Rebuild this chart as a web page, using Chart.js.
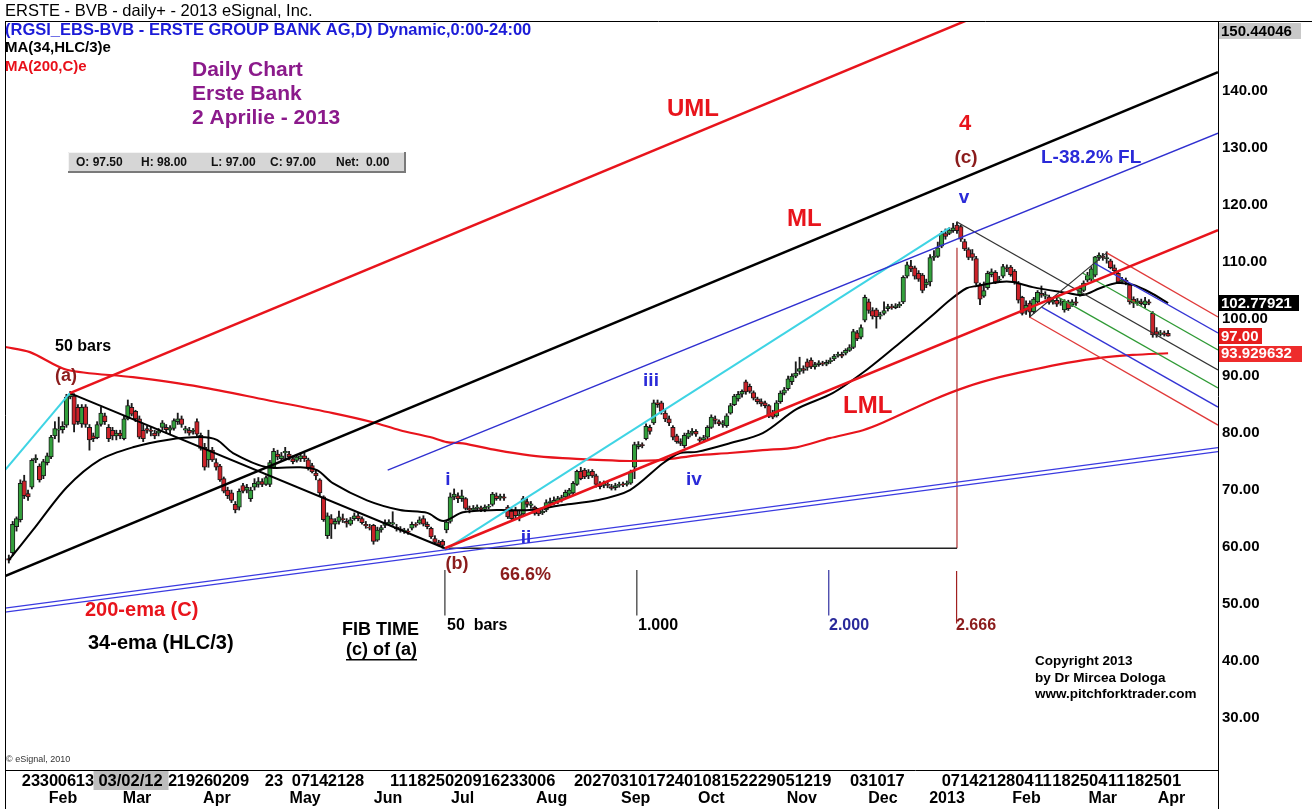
<!DOCTYPE html>
<html><head><meta charset="utf-8">
<script src="https://cdn.jsdelivr.net/npm/chart.js@4.4.1/dist/chart.umd.min.js"></script>
<style>html,body{margin:0;padding:0;background:#fff;overflow:hidden}canvas{display:block}</style>
</head><body>
<canvas id="c" width="1312" height="809"></canvas>
<script>
// ---------- DATA ----------
const opens = [
58.0,59.0,63.6,64.8,71.6,69.4,70.5,75.3,74.2,72.5,
74.8,75.8,79.5,80.5,80.6,81.4,86.4,86.5,84.5,81.6,
84.6,81.0,79.5,79.2,81.5,83.0,81.0,80.5,79.5,80.0,
79.0,82.5,84.5,83.8,82.5,80.5,80.8,80.5,80.0,80.0,
81.0,81.0,80.5,80.8,82.0,82.5,80.5,80.5,80.3,82.0,
79.6,77.5,75.3,77.0,74.8,74.2,72.0,70.0,69.5,67.5,
67.0,70.8,70.0,68.5,70.5,71.0,71.5,71.0,71.0,74.0,
76.3,75.5,76.5,76.3,75.5,75.2,75.5,76.0,75.3,74.3,
73.0,71.8,68.8,62.0,65.0,64.0,64.5,65.0,64.5,64.0,
65.0,65.5,65.0,64.0,63.5,63.8,61.2,63.0,63.8,64.0,
64.0,63.5,63.2,62.8,62.8,63.3,64.0,64.2,65.0,64.0,
63.3,61.5,60.8,61.0,63.0,64.5,68.8,69.0,68.5,68.5,
66.8,66.5,66.8,66.7,66.6,67.0,67.5,69.0,68.6,68.8,
67.0,66.3,66.5,65.5,65.8,68.0,67.3,67.0,66.5,66.0,
66.5,67.8,67.8,68.0,68.3,68.8,69.3,69.5,71.0,73.3,
73.5,72.5,73.3,72.5,71.0,70.8,71.0,70.6,70.4,70.8,
71.0,71.0,71.2,74.0,77.6,78.0,79.0,81.0,81.8,85.3,
85.3,83.5,82.5,81.0,79.5,78.5,77.8,79.3,80.0,80.3,
79.0,78.8,79.3,81.0,82.5,82.0,81.5,81.3,83.5,85.0,
86.0,86.8,89.0,88.2,87.1,86.0,85.5,85.3,84.8,83.5,
83.0,85.5,87.0,87.8,89.0,90.0,90.8,91.3,92.5,92.8,
91.6,92.0,92.3,92.1,92.5,93.0,93.6,93.8,94.0,94.5,
95.0,97.6,96.8,99.8,103.0,101.5,101.6,100.5,101.0,101.8,
102.2,102.0,102.3,103.0,107.5,109.3,109.0,108.0,107.7,106.0,
106.5,110.8,111.0,112.8,115.0,115.0,115.5,116.5,116.2,113.6,
112.2,111.5,110.6,106.0,104.0,105.5,107.8,108.2,106.8,107.5,
109.0,109.1,108.4,106.3,103.8,101.5,102.8,101.3,103.0,104.5,
104.0,103.9,103.0,103.3,102.8,101.6,103.0,102.5,103.0,104.2,
105.0,106.8,107.0,107.7,110.8,111.0,110.6,110.2,109.0,108.0,
106.6,106.8,106.0,103.5,102.8,103.0,102.5,103.0,101.0,97.8,
97.3,97.6,97.5];
const highs = [
58.6,64.5,65.3,71.8,72.6,70.0,75.5,76.2,74.6,75.4,
76.5,79.6,82.0,82.8,82.0,86.8,87.3,86.9,85.0,85.0,
85.0,81.5,80.0,82.0,84.5,83.5,81.5,81.0,80.5,80.5,
83.0,85.8,85.2,84.0,83.0,81.5,81.2,81.0,80.5,80.8,
82.2,81.5,81.3,82.5,83.5,83.0,81.2,81.0,80.8,82.5,
80.0,78.2,80.5,77.5,75.5,74.5,72.3,70.5,70.0,68.0,
70.2,71.2,71.0,70.5,72.0,72.2,72.0,72.5,75.2,77.3,
77.0,76.6,77.5,76.8,76.0,76.2,76.5,76.5,75.6,74.7,
73.5,72.0,69.0,66.0,65.7,65.0,66.3,65.8,65.0,65.2,
66.0,66.0,65.3,64.5,64.0,64.0,63.5,63.8,64.8,64.8,
66.2,64.0,63.6,63.3,63.2,64.4,64.3,65.3,65.5,64.4,
63.5,62.0,61.2,61.3,64.6,69.5,70.2,69.5,70.0,68.7,
67.2,67.3,67.4,67.2,67.4,67.5,69.6,69.5,69.3,69.3,
67.3,66.7,67.0,66.5,68.9,68.5,68.0,67.2,66.8,66.8,
68.3,68.6,68.8,68.9,69.1,70.0,70.3,71.5,73.5,74.0,
73.8,73.6,73.6,72.8,71.5,71.6,71.5,71.0,71.2,71.4,
71.4,71.6,73.5,78.4,78.5,78.3,81.6,81.4,85.8,85.8,
85.6,84.0,83.0,81.3,79.8,79.0,80.0,80.5,80.8,80.6,
79.3,79.6,81.3,83.2,83.0,82.3,82.2,83.4,85.2,86.8,
87.3,87.6,89.3,88.6,87.4,86.3,86.0,85.6,85.0,84.0,
85.7,87.4,88.0,90.0,90.4,92.5,93.3,91.8,93.0,93.2,
92.4,92.7,92.6,92.8,93.2,93.8,94.2,94.2,94.8,95.5,
98.2,98.0,99.0,104.2,103.5,102.0,101.9,101.2,103.0,102.6,
102.6,102.7,103.0,107.6,110.0,110.3,109.3,108.5,108.0,107.0,
111.3,112.0,113.5,115.4,115.8,116.0,116.8,117.0,116.5,114.0,
112.5,112.2,111.0,106.3,106.5,108.4,108.8,108.5,107.5,109.6,
109.5,109.4,108.7,106.6,104.0,103.2,103.2,103.8,105.0,105.8,
104.8,104.2,103.7,103.8,103.5,103.4,103.3,103.4,103.8,105.8,
106.7,108.2,109.2,111.0,111.6,111.5,111.8,110.5,109.5,108.3,
107.3,107.2,106.3,103.9,103.6,103.5,103.8,103.4,101.3,98.5,
98.0,97.9,98.0];
const lows = [
57.2,58.5,62.8,64.4,68.5,68.2,70.2,74.8,71.4,72.0,
74.4,75.5,79.0,78.4,80.0,81.0,86.0,80.2,81.5,81.0,
81.0,77.0,78.5,79.0,81.2,81.5,78.5,78.8,78.8,79.0,
78.8,82.3,83.0,82.0,79.0,78.5,80.0,79.5,79.0,79.5,
80.5,80.0,79.8,80.5,81.5,81.0,80.0,79.6,79.8,79.5,
77.0,73.5,74.0,75.0,73.5,71.5,69.5,68.5,67.8,66.0,
66.5,69.5,69.5,68.0,70.0,70.5,70.6,70.8,70.6,73.8,
75.3,75.0,75.5,75.3,74.6,74.9,75.0,75.0,73.5,73.0,
71.8,69.0,64.5,61.5,61.5,63.2,64.0,64.3,63.5,63.8,
64.7,64.6,64.0,63.3,63.0,60.5,61.0,62.6,63.4,63.8,
63.8,62.8,62.6,62.4,62.2,63.0,63.5,64.0,63.7,63.2,
61.5,60.5,60.2,59.8,62.5,64.2,68.3,67.8,68.0,66.5,
66.0,66.2,66.4,66.2,66.2,66.7,67.2,68.2,68.2,68.2,
65.0,64.7,65.0,64.6,65.5,67.0,66.8,65.6,65.5,65.7,
66.2,67.4,67.4,67.6,67.9,68.5,69.0,69.2,70.8,71.8,
72.0,72.0,72.2,70.5,70.2,70.4,70.4,70.0,70.0,70.5,
70.6,70.7,71.0,72.0,77.2,77.4,78.8,79.8,81.5,84.5,
83.3,82.0,81.3,78.8,78.2,77.8,77.4,79.0,79.6,79.4,
78.3,78.4,79.0,80.8,81.6,81.3,81.0,81.0,83.3,84.8,
85.6,86.3,86.8,87.0,85.8,85.1,84.7,84.4,82.7,82.5,
82.8,85.2,86.7,87.5,88.5,89.7,90.3,90.5,91.0,91.3,
91.2,91.7,91.8,91.8,92.2,92.7,93.3,93.2,93.7,94.3,
94.8,96.2,96.5,99.5,101.0,100.0,98.4,100.0,100.7,101.4,
101.7,101.8,102.0,102.7,107.2,108.3,107.0,106.6,104.6,105.5,
105.8,110.3,110.8,112.5,114.0,114.8,115.2,115.0,113.6,112.0,
110.4,110.3,106.0,102.5,103.8,105.2,107.4,106.2,106.4,107.2,
108.3,107.5,106.1,102.8,100.7,100.8,100.3,101.0,102.8,103.8,
103.5,102.6,102.6,102.2,102.4,101.2,101.5,102.2,102.4,104.0,
104.8,106.5,106.7,107.4,110.3,110.3,109.8,108.8,108.2,106.2,
106.2,106.0,102.6,102.0,102.4,102.4,102.0,102.5,96.8,96.8,
97.0,97.0,97.0];
const closes = [
57.7,64.0,65.0,71.2,69.0,68.8,75.2,75.6,71.8,75.0,
76.0,79.3,80.8,80.7,81.2,86.3,86.8,81.5,82.0,84.5,
81.5,78.8,79.0,81.5,83.5,82.0,79.0,79.5,80.0,79.5,
82.5,84.8,83.3,82.5,79.3,79.0,80.5,80.3,79.5,80.4,
81.8,80.6,80.9,82.2,82.5,81.5,80.8,80.0,80.5,79.8,
77.3,74.0,77.0,75.3,74.0,71.8,69.8,69.0,68.2,66.5,
69.8,69.8,70.5,70.0,71.2,71.5,71.0,72.2,74.8,76.8,
75.8,76.0,76.8,75.8,75.0,75.8,76.0,75.5,73.8,73.2,
72.5,69.5,64.8,65.5,64.0,64.5,65.3,64.8,64.2,64.8,
65.5,65.0,64.3,63.7,63.3,61.0,63.0,63.4,64.3,64.4,
64.3,63.2,63.0,62.9,62.6,64.0,63.8,64.8,64.0,63.6,
61.8,60.8,60.4,60.3,64.4,68.8,69.3,68.5,69.0,66.8,
66.5,66.8,67.0,66.6,67.0,67.1,69.3,68.5,68.9,68.6,
65.3,65.0,65.5,65.8,68.5,67.5,67.6,65.9,65.8,66.3,
67.8,68.0,68.2,68.5,68.7,69.6,70.0,71.2,73.3,72.0,
72.3,73.2,72.5,71.0,70.6,71.2,70.8,70.3,70.8,71.0,
70.9,71.2,73.2,78.0,78.0,77.8,81.2,80.3,85.3,85.0,
83.8,82.5,81.8,79.3,78.5,78.2,79.6,80.0,80.3,79.8,
78.7,79.2,81.0,82.8,82.2,81.6,81.8,83.0,84.8,86.5,
86.8,87.3,87.2,87.3,86.1,85.5,85.1,84.8,83.0,82.8,
85.3,87.0,87.6,89.5,90.0,90.5,91.3,91.0,91.5,91.6,
92.0,92.3,92.1,92.4,92.8,93.5,93.8,93.5,94.5,95.0,
97.8,96.5,98.5,103.8,101.5,100.5,100.4,100.8,101.5,102.2,
102.0,102.3,102.6,107.3,109.5,108.8,107.5,107.0,105.0,106.5,
110.8,111.0,112.5,115.0,114.5,115.6,116.0,115.5,114.0,112.3,
110.8,110.8,106.3,103.5,105.0,108.0,108.3,106.5,107.0,109.2,
108.8,107.8,106.5,103.3,101.0,102.4,101.2,103.5,104.7,104.2,
104.3,102.9,103.3,102.6,103.0,103.1,101.8,103.0,102.8,105.4,
106.3,107.6,108.8,110.9,111.2,110.8,110.8,109.0,108.5,106.5,
106.8,106.5,103.0,102.8,103.2,102.7,103.2,102.8,97.2,97.3,
97.6,97.3,97.0];

// moving averages (bar index, value)
const ema34Idx = [0,6.3,15.1,23.7,32.3,41.2,49.8,54.2,58.4,67.2,75.8,80.3,84.4,93.3,101.9,109,112.3,114.1,118.3,127.1,135.7,144.3,153.2,161.8,170.4,174.8,179.2,187.8,196.4,205.2,214.6,223.5,232.1,240.7,245.1,249.5,252.1,258.1,261.5,266.7,275.6,279.7,284.2,288.6,292.8,297.2,302];
const ema34Val = [57.7,63.0,70.5,75.3,77.5,78.8,79.3,78.8,76.5,74.0,74.0,73.5,71.2,68.2,66.5,66.0,64.7,64.7,66.1,66.5,66.5,67.4,68.2,70.0,74.7,76.5,76.7,78.2,80.0,84.2,87.0,91.1,95.8,100.7,103.3,105.4,105.8,106.5,106.5,105.6,104.6,104.2,105.4,106.3,106.0,104.7,102.8];
const ema200Idx = [-1,5.5,15.1,32.3,49.8,67.2,84.4,94.8,101.9,109.7,114.1,118.3,127.1,135.7,144.3,153.2,161.8,170.4,179.2,187.8,196.4,205.2,213.8,222.5,227.6,240.7,249.5,258.1,266.7,275.6,284.2,292.8,302];
const ema200Val = [95.1,94.2,91.1,89.8,88.1,85.8,83.5,81.9,80.5,79.3,78.4,78.2,77.0,76.1,75.6,75.3,75.1,75.3,76.1,76.5,77.0,77.5,79.1,80.5,81.8,85.8,88.1,89.8,91.1,92.3,93.2,93.7,94.0];

// trend lines: [bar index, price]
const cyanLeft   = [[-1,73.5],[15.9,87.0]];
const cyanWave   = [[113.6,59.5],[245.1,116.0]];
const umlLine    = [[15.9,87.0],[315,170.7]];
const mlLine     = [[-1,54.9],[315,143.3]];
const lmlLine    = [[113.6,59.8],[315,115.6]];
const flLine     = [[98.7,73.5],[315,132.6]];
const baseLine1  = [[-1,49.3],[315,77.45]];
const baseLine2  = [[-1,48.6],[315,76.75]];
const abLine     = [[15.9,87.0],[113.6,59.8]];
const bHorizontal= [[113.6,59.8],[247,59.8]];
const vLine      = [[247,112.5],[247,59.8]];
const fibTick0   = [[113.6,56.0],[113.6,48.0]];
const fibTick1   = [[163.6,56.0],[163.6,48.0]];
const fibTick2   = [[213.6,56.0],[213.6,48.0]];
const fibTick3   = [[246.9,55.8],[246.9,46.6]];
const pfMedian   = [[246.9,117.06],[315,91.05]];
const pfUpperRed = [[286,111.6],[315,100.35]];
const pfUpperBlue= [[282.8,109.8],[315,97.54]];
const pfUpperGrn = [[279.7,108.07],[315,94.56]];
const pfLowerGrn = [[272.6,104.1],[315,87.9]];
const pfLowerBlue= [[269.05,102.1],[315,84.56]];
const pfLowerRed = [[265.9,100.35],[315,81.4]];
const pfHandle   = [[265.9,100.35],[286,111.6]];

// axes
const yTicks = [30,40,50,60,70,80,90,100,110,120,130,140];
const weekPos = [5.77,10.46,15.15,19.84,27.1,32.1,36.8,41.46,46.15,50.84,55.53,60.22,69.08,76.11,80.8,85.49,90.18,101.6,106.4,111.2,116.0,120.8,125.6,130.4,135.2,140.0,149.6,154.4,159.1,163.9,168.7,173.5,178.3,183.1,187.9,192.7,197.5,202.3,207.1,211.9,221.5,226.3,231.0,245.4,250.2,255.0,259.8,264.6,269.4,274.2,279.0,283.8,288.6,293.4,298.2,303.0];
const weekLabels = ['23','30','06','13','20','27','05','12','19','26','02','09','23','07','14','21','28','11','18','25','02','09','16','23','30','06','20','27','03','10','17','24','01','08','15','22','29','05','12','19','03','10','17','07','14','21','28','04','11','18','25','04','11','18','25','01'];
const monthPos = [14.1,33.4,54.2,77.2,98.8,118.2,141.4,163.3,183.0,206.6,227.7,244.4,265.1,285.0,302.9];
const monthLabels = ['Feb','Mar','Apr','May','Jun','Jul','Aug','Sep','Oct','Nov','Dec','2013','Feb','Mar','Apr'];
const cursorDate = '03/02/12';
const cursorIdx = 31.7;

// price tags
const topPrice = 150.44046;
const ema34Last = 102.77921;
const lastClose = 97.00;
const ema200Last = 93.929632;
const ohlcLast = ['O: 97.50','H: 98.00','L: 97.00','C: 97.00','Net:  0.00'];

// ---------- CHART ----------
const FONT = '"Liberation Sans", Arial, Helvetica, sans-serif';
const GREEN = '#33a03c', RED = '#cc2229', LRED = '#e8141c', BLUE = '#2a2ad8', CYAN = '#3fd4e4', DRED = '#8b1c1c', PGREEN = '#2f9a35';

function seg(pts, color, width, order) {
  return {type:'line', data: pts.map(p => ({x:p[0], y:p[1]})), borderColor: color, borderWidth: width,
    pointRadius: 0, fill: false, tension: 0, order: order || 1};
}
function curve(xs, ys, color, width) {
  return {type:'line', data: xs.map((x,i) => ({x:x, y:ys[i]})), borderColor: color, borderWidth: width,
    pointRadius: 0, fill: false, tension: 0.3, order: 5, borderJoinStyle:'round'};
}

const datasets = [
  seg(umlLine, LRED, 2.5), seg(mlLine, '#000', 2.5), seg(lmlLine, LRED, 2.5),
  seg(flLine, '#3030d0', 1.3), seg(baseLine1, '#3a3ae0', 1.3), seg(baseLine2, '#3a3ae0', 1.3),
  seg(cyanLeft, CYAN, 2), seg(cyanWave, CYAN, 2),
  seg(abLine, '#000', 2), seg(bHorizontal, '#222', 1.4), seg(vLine, '#b03030', 1.2),
  seg(fibTick0, '#333', 1.2), seg(fibTick1, '#333', 1.2), seg(fibTick2, '#3030a0', 1.2), seg(fibTick3, '#a02020', 1.2),
  seg(pfMedian, '#333', 1.3), seg(pfHandle, '#333', 1.1),
  seg(pfUpperRed, '#e03a3a', 1.3), seg(pfLowerRed, '#e03a3a', 1.3),
  seg(pfUpperBlue, '#3434d4', 1.3), seg(pfLowerBlue, '#3434d4', 1.3),
  seg(pfUpperGrn, PGREEN, 1.3), seg(pfLowerGrn, PGREEN, 1.3),
  curve(ema34Idx, ema34Val, '#000', 2),
  curve(ema200Idx, ema200Val, LRED, 2.2),
  {type:'bar', data: opens.map((o,i) => ({x:i, y:[Math.min(o,closes[i]), Math.max(o,closes[i])]})),
    backgroundColor: c => closes[c.dataIndex] >= opens[c.dataIndex] ? GREEN : RED,
    borderColor:'#1a1a1a', borderWidth:1, borderSkipped:false, barThickness:4.5, minBarLength:1, grouped:false, order:15},
  {type:'bar', data: highs.map((h,i) => ({x:i, y:[lows[i], h]})),
    backgroundColor:'#1a1a1a', barThickness:1.2, grouped:false, order:20}
];

const notes = [
 ['ERSTE - BVB - daily+ - 2013 eSignal, Inc.', 5, 11, 'normal 16.5px', '#000'],
 ['(RGSI_EBS-BVB - ERSTE GROUP BANK AG,D) Dynamic,0:00-24:00', 5, 30, 'bold 16.5px', '#1c1cd8'],
 ['MA(34,HLC/3)e', 5, 48, 'bold 15px', '#000'],
 ['MA(200,C)e', 5, 67, 'bold 15px', '#e8101a'],
 ['Daily Chart', 192, 70, 'bold 21px', '#8b1a8b'],
 ['Erste Bank', 192, 94, 'bold 21px', '#8b1a8b'],
 ['2 Aprilie - 2013', 192, 118, 'bold 21px', '#8b1a8b'],
 ['UML', 667, 109, 'bold 24px', LRED],
 ['4', 965, 124, 'bold 22px', LRED, 'center'],
 ['(c)', 966, 158, 'bold 19px', DRED, 'center'],
 ['L-38.2% FL', 1041, 158, 'bold 19px', BLUE],
 ['v', 964, 198, 'bold 19px', BLUE, 'center'],
 ['ML', 787, 219, 'bold 24px', LRED],
 ['50 bars', 55, 347, 'bold 16px', '#000'],
 ['(a)', 66, 376, 'bold 18px', DRED, 'center'],
 ['iii', 651, 381, 'bold 19px', BLUE, 'center'],
 ['LML', 843, 406, 'bold 24px', LRED],
 ['i', 448, 480, 'bold 19px', BLUE, 'center'],
 ['iv', 694, 480, 'bold 19px', BLUE, 'center'],
 ['ii', 526, 538, 'bold 19px', BLUE, 'center'],
 ['(b)', 457, 564, 'bold 18px', DRED, 'center'],
 ['66.6%', 500, 575, 'bold 18px', DRED],
 ['200-ema (C)', 85, 610, 'bold 20px', LRED],
 ['50  bars', 447, 626, 'bold 16px', '#000'],
 ['1.000', 638, 626, 'bold 16px', '#000'],
 ['2.000', 829, 626, 'bold 16px', '#2a2a9a'],
 ['2.666', 956, 626, 'bold 16px', DRED],
 ['FIB TIME', 342, 630, 'bold 18px', '#000'],
 ['(c) of (a)', 346, 650, 'bold 18px', '#000', 'left', true],
 ['34-ema (HLC/3)', 88, 643, 'bold 20px', '#000'],
 ['Copyright 2013', 1035, 661, 'bold 13.5px', '#000'],
 ['by Dr Mircea Dologa', 1035, 678, 'bold 13.5px', '#000'],
 ['www.pitchforktrader.com', 1035, 694, 'bold 13.5px', '#000'],
 ['\u00A9 eSignal, 2010', 6, 760, 'normal 9px', '#333']
];

const overlay = {
  id: 'overlay',
  afterDraw(chart) {
    const ctx = chart.ctx, ys = chart.scales.y, xs = chart.scales.x, ca = chart.chartArea;
    ctx.save();
    // frame
    ctx.strokeStyle = '#000'; ctx.lineWidth = 1;
    ctx.beginPath();
    ctx.moveTo(5, 21.5); ctx.lineTo(1312, 21.5);
    ctx.moveTo(5.5, 21.5); ctx.lineTo(5.5, 809);
    ctx.moveTo(ca.right + 0.5, ca.bottom); ctx.lineTo(ca.right + 0.5, 809);
    ctx.stroke();
    // notes
    ctx.textBaseline = 'middle';
    for (const n of notes) {
      ctx.font = n[3] + ' ' + FONT; ctx.fillStyle = n[4]; ctx.textAlign = n[5] || 'left';
      ctx.fillText(n[0], n[1], n[2]);
      if (n[6]) {
        const w = ctx.measureText(n[0]).width;
        ctx.fillRect(n[1], n[2] + 9, w, 1.5);
      }
    }
    // OHLC box
    ctx.fillStyle = '#d6d6d6'; ctx.fillRect(68, 152, 338, 20);
    ctx.strokeStyle = '#f4f4f4'; ctx.beginPath(); ctx.moveTo(68.5, 171.5); ctx.lineTo(68.5, 152.5); ctx.lineTo(405.5, 152.5); ctx.stroke();
    ctx.strokeStyle = '#7a7a7a'; ctx.lineWidth = 2; ctx.beginPath(); ctx.moveTo(405, 152); ctx.lineTo(405, 172); ctx.lineTo(68, 172); ctx.stroke();
    ctx.lineWidth = 1;
    ctx.font = 'bold 12px ' + FONT; ctx.fillStyle = '#111'; ctx.textAlign = 'left';
    const ox = [76, 141, 211, 270, 336];
    ohlcLast.forEach((t, i) => ctx.fillText(t, ox[i], 162.5));
    // cursor date box on the time axis
    const cx = xs.getPixelForValue(cursorIdx);
    ctx.fillStyle = '#bdbdbd'; ctx.fillRect(cx - 37, 771, 75, 19);
    ctx.fillStyle = '#000'; ctx.font = 'bold 16.5px ' + FONT; ctx.textAlign = 'center';
    ctx.fillText(cursorDate, cx, 781.5);
    // price tags
    const tag = (v, text, bg, fg, w) => {
      const y = ys.getPixelForValue(v);
      ctx.fillStyle = bg; ctx.fillRect(ca.right + 1, Math.round(y - 8), w, 16);
      ctx.fillStyle = fg; ctx.font = 'bold 15px ' + FONT; ctx.textAlign = 'left';
      ctx.fillText(text, ca.right + 3, y + 0.5);
    };
    tag(topPrice, topPrice.toFixed(5), '#c8c8c8', '#000', 82);
    tag(ema34Last, ema34Last.toFixed(5), '#000', '#fff', 80);
    tag(lastClose, lastClose.toFixed(2), '#e61e1e', '#fff', 43);
    tag(ema200Last, ema200Last.toFixed(6), '#ee2c2c', '#fff', 83);
    ctx.restore();
  }
};

new Chart(document.getElementById('c'), {
  type: 'bar',
  data: { datasets },
  options: {
    responsive: false, animation: false, devicePixelRatio: 1, events: [],
    layout: { padding: { top: 22, left: 5, right: 0, bottom: 0 } },
    plugins: { legend: { display: false }, tooltip: { enabled: false } },
    scales: {
      x: { type: 'linear', position: 'bottom', min: -1, max: 315, offset: false, weight: 0,
        grid: { display: false, drawTicks: false, offset: false },
        border: { display: true, color: '#000', width: 1 },
        ticks: { autoSkip: false, maxRotation: 0, minRotation: 0, padding: 2, color: '#000',
          font: { family: FONT, size: 16.5, weight: 'bold' }, callback: (v, i) => weekLabels[i] },
        afterBuildTicks: s => { s.ticks = weekPos.map(v => ({ value: v })); },
        afterFit: s => { s.height = 19; } },
      x2: { type: 'linear', position: 'bottom', min: -1, max: 315, offset: false, weight: 1,
        grid: { display: false, drawTicks: false, offset: false },
        border: { display: false },
        ticks: { autoSkip: false, maxRotation: 0, minRotation: 0, padding: 0, color: '#000',
          font: { family: FONT, size: 16, weight: 'bold' }, callback: (v, i) => monthLabels[i] },
        afterBuildTicks: s => { s.ticks = monthPos.map(v => ({ value: v })); },
        afterFit: s => { s.height = 20; } },
      y: { position: 'right', min: 20.9, max: 152.1,
        grid: { display: false, drawTicks: false },
        border: { display: true, color: '#000', width: 1 },
        ticks: { padding: 4, color: '#000', font: { family: FONT, size: 15, weight: 'bold' },
          callback: v => Number(v).toFixed(2) },
        afterBuildTicks: s => { s.ticks = yTicks.map(v => ({ value: v })); },
        afterFit: s => { s.width = 94; } }
    }
  },
  plugins: [overlay]
});
</script>
</body></html>
